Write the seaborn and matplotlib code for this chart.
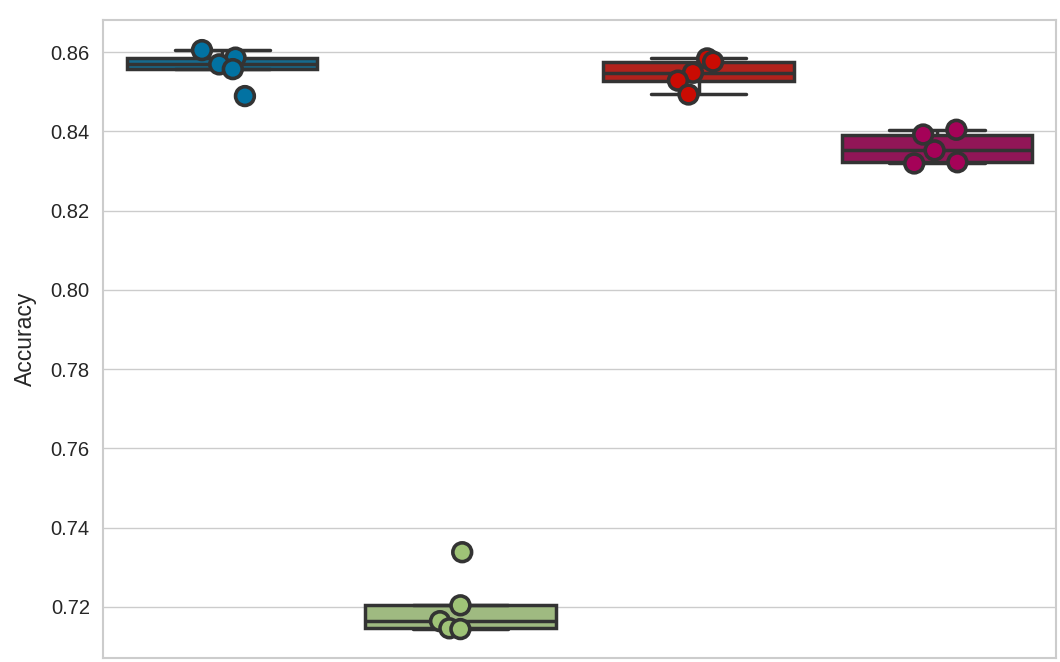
import numpy as np
import pandas as pd
import matplotlib
matplotlib.use("Agg")
import matplotlib.pyplot as plt
import seaborn as sns

# Accuracy per fold for four models
models = ["Model A", "Model B", "Model C", "Model D"]
acc_a = [0.8605, 0.8586, 0.8569, 0.8557, 0.8489]
acc_b = [0.7338, 0.7204, 0.7164, 0.7146, 0.7144]
acc_c = [0.8584, 0.8576, 0.8548, 0.8528, 0.8493]
acc_d = [0.8404, 0.8392, 0.8352, 0.8322, 0.8319]
colors = ["#0272a2", "#9fc377", "#ca0b03", "#a50258"]

df = pd.DataFrame({
    "model": np.repeat(models, 5),
    "accuracy": acc_a + acc_b + acc_c + acc_d,
})

sns.set_theme(style="whitegrid")
plt.rcParams["font.family"] = ["Liberation Sans", "DejaVu Sans"]

fig, ax = plt.subplots(figsize=(10.6, 6.62), dpi=100)
pal = dict(zip(models, colors))

sns.boxplot(data=df, x="model", y="accuracy", hue="model", palette=pal,
            showfliers=False, linecolor="#333333", linewidth=2.5,
            width=0.8, legend=False, ax=ax)
np.random.seed(7)
sns.stripplot(data=df, x="model", y="accuracy", hue="model", palette=pal,
              size=13.5, linewidth=2.6, edgecolor="#333333", jitter=0.1,
              legend=False, ax=ax, zorder=5)

ax.set_ylim(0.7071, 0.8681)
ax.set_xticks([])
ax.set_xlabel("")
ax.set_ylabel("Accuracy", fontsize=16.5, labelpad=10)
ax.tick_params(axis="y", labelsize=14.5)
for s in ax.spines.values():
    s.set_color("#cccccc")
    s.set_linewidth(1.5)

plt.subplots_adjust(left=0.0972, right=0.9962, top=0.9698, bottom=0.006)
plt.savefig("out.png", dpi=100)
